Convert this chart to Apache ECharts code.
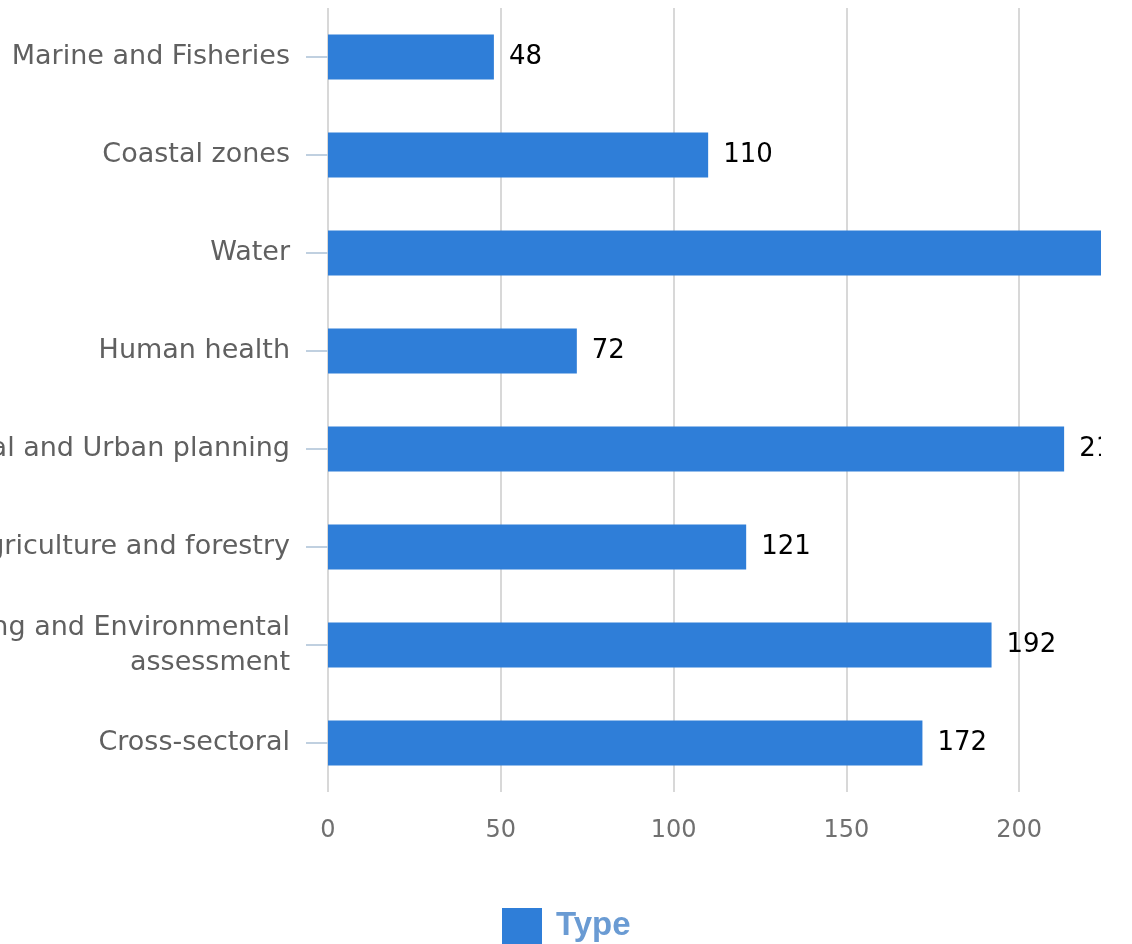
<!DOCTYPE html>
<html>
<head>
<meta charset="utf-8">
<script src="https://cdn.jsdelivr.net/npm/echarts@6/dist/echarts.min.js"></script>
<style>
  html, body { margin: 0; padding: 0; background: #fff; }
  #wrap { position: absolute; left: 0; top: 0; width: 1101px; height: 944px; overflow: hidden; background: #fff; }
  #chart { position: absolute; left: 0; top: 0; width: 1300px; height: 944px; }
</style>
</head>
<body>
<div id="wrap"><div id="chart"></div></div>
<script>
// Categories listed top to bottom as they appear
const categories = [
  "Marine and Fisheries",
  "Coastal zones",
  "Water",
  "Human health",
  "Spatial and Urban planning",
  "Agriculture and forestry",
  "Monitoring and Environmental\nassessment",
  "Cross-sectoral"
];
const values = [48, 110, 232, 72, 213, 121, 192, 172];
const seriesName = "Type";
const xMin = 0;
const xMax = 250;
const xInterval = 50;

const chart = echarts.init(document.getElementById('chart'), null, { renderer: 'canvas' });
chart.setOption({
  animation: false,
  backgroundColor: '#ffffff',
  grid: {
    left: 328,
    top: 8,
    width: 864,
    height: 784,
    containLabel: false,
    outerBoundsMode: 'none'
  },
  legend: {
    data: [seriesName],
    left: 497,
    top: 903,
    icon: 'rect',
    itemWidth: 40,
    itemHeight: 36,
    textStyle: {
      fontFamily: 'Liberation Sans, Arial, sans-serif',
      fontWeight: 'bold',
      fontSize: 33,
      color: '#6a9bd3',
      padding: [0, 0, 0, 9]
    }
  },
  xAxis: {
    type: 'value',
    min: xMin,
    max: xMax,
    interval: xInterval,
    axisLine: { show: false },
    axisTick: { show: false },
    axisLabel: {
      margin: 27,
      fontFamily: 'DejaVu Sans, sans-serif',
      fontSize: 24,
      color: '#707070'
    },
    splitLine: {
      show: true,
      lineStyle: { color: '#d8d8d8', width: 2 }
    }
  },
  yAxis: {
    type: 'category',
    data: categories,
    inverse: true,
    axisLine: { show: false },
    axisTick: {
      show: true,
      alignWithLabel: true,
      length: 22,
      lineStyle: { color: '#c0d0e0', width: 2 }
    },
    axisLabel: {
      margin: 38,
      fontFamily: 'DejaVu Sans, sans-serif',
      fontSize: 27,
      lineHeight: 35,
      color: '#606060',
      align: 'right'
    },
    splitLine: { show: false }
  },
  series: [{
    name: seriesName,
    type: 'bar',
    data: values,
    barWidth: 45,
    clip: false,
    itemStyle: { color: '#2f7ed8' },
    label: {
      show: true,
      position: 'right',
      distance: 15,
      fontFamily: 'DejaVu Sans, sans-serif',
      fontSize: 26,
      color: '#000000'
    }
  }]
});
</script>
</body>
</html>
